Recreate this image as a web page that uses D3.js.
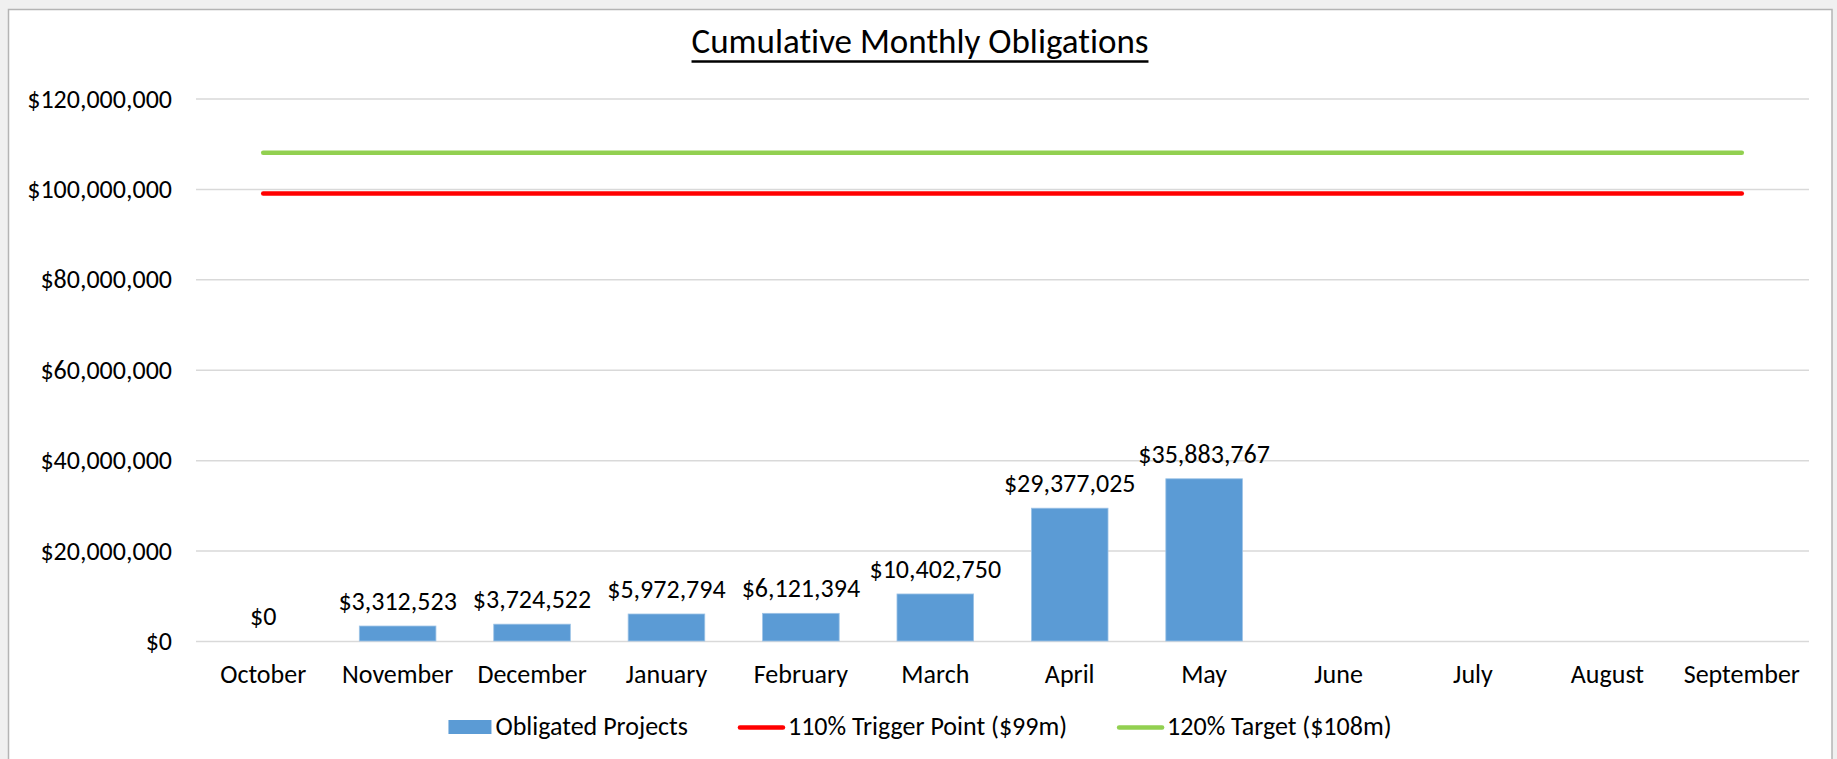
<!DOCTYPE html>
<html>
<head>
<meta charset="utf-8">
<script src="https://cdn.jsdelivr.net/npm/d3@7"></script>
<style>
  html, body { margin: 0; padding: 0; background: #f0f0f0; }
  svg { display: block; font-family: Carlito, Calibri, Lato, sans-serif; font-variant-ligatures: none; }
</style>
</head>
<body>
<svg id="chart" width="1837" height="759"></svg>
<script>
// Dữ liệu của biểu đồ
const months = ["October", "November", "December", "January", "February", "March",
                "April", "May", "June", "July", "August", "September"];
const obligated = [0, 3312523, 3724522, 5972794, 6121394, 10402750, 29377025, 35883767,
                   null, null, null, null];
const triggerPoint = [99000000, 99000000, 99000000, 99000000, 99000000, 99000000,
                      99000000, 99000000, 99000000, 99000000, 99000000, 99000000];
const target = [108000000, 108000000, 108000000, 108000000, 108000000, 108000000,
                108000000, 108000000, 108000000, 108000000, 108000000, 108000000];
const yTicks = [0, 20000000, 40000000, 60000000, 80000000, 100000000, 120000000];
const legendLabels = ["Obligated Projects", "110% Trigger Point ($99m)", "120% Target ($108m)"];

const W = 1837, H = 759;
const plot = { left: 196, right: 1809, top: 98.5, bottom: 641 };
const BLUE = "#5b9bd5", RED = "#ff0000", GREEN = "#92d050";
const FS = "26px";
const fmt = v => "$" + d3.format(",")(v);

const svg = d3.select("#chart");

// Khung biểu đồ
svg.append("rect")
    .attr("x", 8.5).attr("y", 9.5)
    .attr("width", 1832 - 8.5).attr("height", H + 20)
    .attr("fill", "#fff")
    .attr("stroke", "#b4b4b4").attr("stroke-width", 1.5);

// Scales
const x = d3.scaleBand().domain(months)
    .range([plot.left, plot.right])
    .paddingInner(0.43).paddingOuter(0.215);
const y = d3.scaleLinear().domain([0, 120000000]).range([plot.bottom, plot.top]);

// Trục Y + lưới
const yAxis = svg.append("g")
    .attr("transform", `translate(${plot.left},0)`)
    .call(d3.axisLeft(y).tickValues(yTicks).tickFormat(fmt)
        .tickSize(-(plot.right - plot.left)).tickPadding(24))
    .attr("font-family", null).attr("font-size", null);
yAxis.select(".domain").remove();
yAxis.selectAll(".tick line").attr("stroke", "#d9d9d9").attr("stroke-width", 1.5);
yAxis.selectAll(".tick text")
    .attr("fill", "#000").style("font-size", FS).attr("dy", "0.33em");

// Trục X
const xAxis = svg.append("g")
    .attr("transform", `translate(0,${plot.bottom})`)
    .call(d3.axisBottom(x).tickSize(0))
    .attr("font-family", null).attr("font-size", null);
xAxis.select(".domain").remove();
xAxis.selectAll(".tick text")
    .attr("fill", "#000").style("font-size", FS).attr("y", 42).attr("dy", null);

// Cột
const barData = months.map((m, i) => ({ month: m, value: obligated[i] }))
    .filter(d => d.value !== null);

svg.append("g").selectAll("rect")
    .data(barData)
    .join("rect")
    .attr("x", d => x(d.month))
    .attr("y", d => y(d.value))
    .attr("width", x.bandwidth())
    .attr("height", d => y(0) - y(d.value))
    .attr("fill", BLUE)
    .attr("stroke", "#9dc3e6").attr("stroke-width", d => d.value > 0 ? 0.8 : 0);

svg.append("g").selectAll("text")
    .data(barData)
    .join("text")
    .attr("x", d => x(d.month) + x.bandwidth() / 2)
    .attr("y", d => y(d.value) - 16)
    .attr("text-anchor", "middle")
    .style("font-size", FS)
    .attr("fill", "#000")
    .text(d => fmt(d.value));

// Đường ngưỡng
const line = d3.line()
    .x((d, i) => x(months[i]) + x.bandwidth() / 2)
    .y(d => y(d));

[[triggerPoint, RED], [target, GREEN]].forEach(([vals, c]) => {
    svg.append("path")
        .datum(vals)
        .attr("d", line)
        .attr("fill", "none")
        .attr("stroke", c)
        .attr("stroke-width", 4.5)
        .attr("stroke-linecap", "round");
});

// Tiêu đề
const title = svg.append("text")
    .attr("x", 920).attr("y", 53)
    .attr("text-anchor", "middle")
    .style("font-size", "35px")
    .attr("fill", "#000")
    .text("Cumulative Monthly Obligations");
const tw = title.node().getComputedTextLength();
svg.append("line")
    .attr("x1", 920 - tw / 2).attr("x2", 920 + tw / 2)
    .attr("y1", 61.5).attr("y2", 61.5)
    .attr("stroke", "#000").attr("stroke-width", 2.5);

// Chú thích
const legend = svg.append("g");
const symW = [43, 47, 47], symGap = [4, 3, 3], itemGap = 50;
const legendColors = [BLUE, RED, GREEN];
let lx = 0;
legendLabels.forEach((lab, i) => {
    const g = legend.append("g").attr("transform", `translate(${lx},0)`);
    if (i === 0) {
        g.append("rect").attr("x", 0).attr("y", 720).attr("width", symW[i]).attr("height", 14)
            .attr("fill", legendColors[i]);
    } else {
        g.append("line").attr("x1", 2).attr("x2", symW[i] - 2)
            .attr("y1", 727.5).attr("y2", 727.5)
            .attr("stroke", legendColors[i]).attr("stroke-width", 4.5)
            .attr("stroke-linecap", "round");
    }
    const t = g.append("text")
        .attr("x", symW[i] + symGap[i]).attr("y", 735)
        .style("font-size", FS).attr("fill", "#000")
        .text(lab);
    lx += symW[i] + symGap[i] + t.node().getComputedTextLength() + itemGap;
});
lx -= itemGap;
legend.attr("transform", `translate(${920 - lx / 2},0)`);
</script>
</body>
</html>
